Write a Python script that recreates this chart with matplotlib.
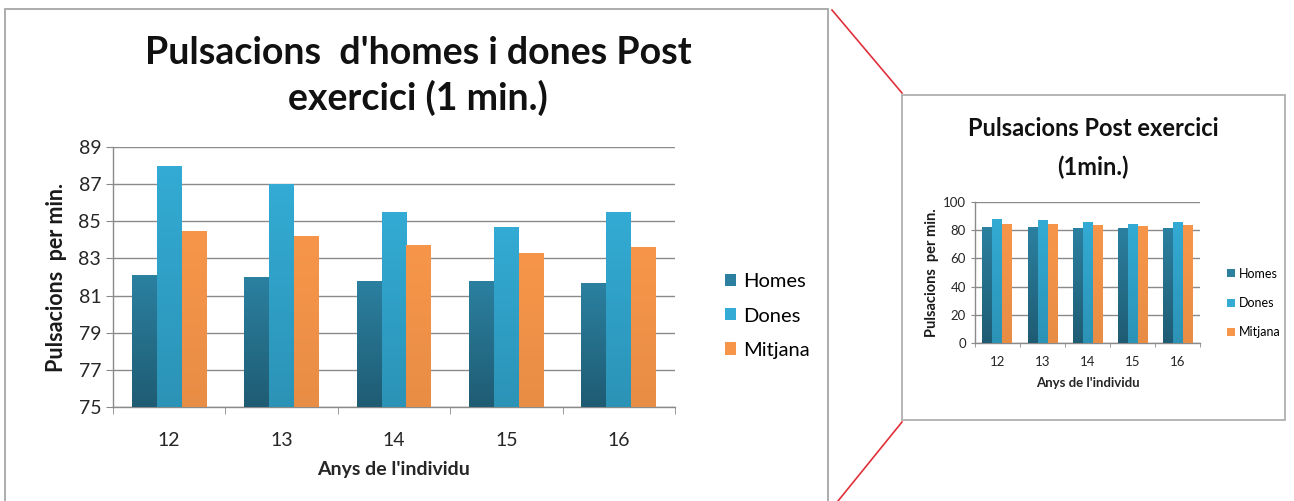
import numpy as np
import matplotlib
matplotlib.use('Agg')
import matplotlib.pyplot as plt
from matplotlib.patches import Rectangle
from matplotlib.lines import Line2D
from matplotlib.colors import to_rgb

# ----------- data ------------------------------------------------------------
anys = ['12', '13', '14', '15', '16']
homes = [82.1, 82.0, 81.8, 81.8, 81.7]
dones = [88.0, 87.0, 85.5, 84.7, 85.5]
mitjana = [84.5, 84.2, 83.7, 83.3, 83.6]
series = ['Homes', 'Dones', 'Mitjana']

# ----------- style -----------------------------------------------------------
plt.rcParams['font.family'] = ['Lato', 'DejaVu Sans']
colors = ['#2b80a0', '#33abd4', '#f7964a']
darken = [0.72, 0.86, 0.94]      # colour at the base of the bar
grid_c = '#8a8a8a'
W, H = 1294, 501


def shade(c, f):
    r, g, b = to_rgb(c)
    return (r*f, g*f, b*f)


def gradient_bars(ax, bars, color, f, y0):
    # vertical gradient, darker at the base of each bar
    grad = np.linspace(0, 1, 64).reshape(-1, 1)
    c0 = np.array(shade(color, f))
    c1 = np.array(to_rgb(color))
    img = c0 + (c1 - c0) * grad[..., None]
    for b in bars:
        x0 = b.get_x()
        top = b.get_height() + b.get_y()
        im = ax.imshow(img, extent=[x0, x0 + b.get_width(), y0, top],
                       origin='lower', aspect='auto', zorder=3)
        im.set_clip_path(b)


def chart(ax, ymin, ymax, ystep, fs_tick, fs_lab, tick_len, xpad):
    x = np.arange(len(anys))
    w = 1 / 4.5
    for k, vals in enumerate([homes, dones, mitjana]):
        bars = ax.bar(x + (k - 1) * w, vals, w, color=colors[k],
                      zorder=2, label=series[k])
        gradient_bars(ax, bars, colors[k], darken[k], ymin)
    ax.set_xlim(-0.5, len(anys) - 0.5)
    ax.set_ylim(ymin, ymax)
    ax.set_yticks(np.arange(ymin, ymax + 0.1, ystep))
    ax.set_xticks(x)
    ax.set_xticklabels(anys)
    ax.set_xticks(np.arange(-0.5, len(anys), 1), minor=True)
    ax.tick_params(axis='x', which='major', length=0, labelsize=fs_tick,
                   pad=xpad, colors='#262626')
    ax.tick_params(axis='x', which='minor', length=tick_len, color=grid_c,
                   direction='out')
    ax.tick_params(axis='y', length=tick_len, labelsize=fs_tick,
                   colors='#262626')
    ax.tick_params(axis='y', color=grid_c)
    ax.grid(axis='y', color=grid_c, lw=1.0, zorder=1)
    ax.set_axisbelow(True)
    for s in ['top', 'right']:
        ax.spines[s].set_visible(False)
    for s in ['left', 'bottom']:
        ax.spines[s].set_color(grid_c)
        ax.spines[s].set_linewidth(1.0)
    ax.set_xlabel("Anys de l'individu", fontsize=fs_lab[0], fontweight='bold',
                  color='#262626')
    ax.set_ylabel('Pulsacions  per min.', fontsize=fs_lab[1], fontweight='bold',
                  color='#1a1a1a')


fig = plt.figure(figsize=(W/100, H/100), dpi=100)

# frames round both charts and the red zoom lines
fig.patches.append(Rectangle((5/W, -0.1), (828-5)/W, 1.1 - 9/H,
                             transform=fig.transFigure, fill=False,
                             ec='#a6a6a6', lw=1.3))
fig.patches.append(Rectangle((902/W, 1 - 420/H), (1285-902)/W, (420-95)/H,
                             transform=fig.transFigure, fill=False,
                             ec='#b0b0b0', lw=1.3))
fig.lines.append(Line2D([832/W, 902/W], [1 - 10/H, 1 - 93/H],
                        transform=fig.transFigure, color='#e0303a', lw=1.2))
fig.lines.append(Line2D([902/W, 838/W], [1 - 422/H, 0],
                        transform=fig.transFigure, color='#e0303a', lw=1.2))

# big chart
ax1 = fig.add_axes([113/W, 1 - 407/H, (675-113)/W, (407-147)/H])
chart(ax1, 75, 89, 2, 14, (14, 15.5), 5, 18)
ax1.xaxis.labelpad = 9
ax1.yaxis.labelpad = 8
fig.text(418/W, 1 - 53/H, "Pulsacions  d'homes i dones Post", ha='center',
         va='center', fontsize=27, fontweight='bold', color='#111111')
fig.text(418/W, 1 - 98/H, 'exercici (1 min.)', ha='center',
         va='center', fontsize=27, fontweight='bold', color='#111111')
h, l = ax1.get_legend_handles_labels()
ax1.legend(h, l, loc='center left', bbox_to_anchor=(707/W, 1 - 316/H),
           bbox_transform=fig.transFigure, frameon=False, fontsize=14.5,
           handlelength=0.55, handleheight=0.55, handletextpad=0.35,
           labelspacing=0.85)

# small chart
ax2 = fig.add_axes([975/W, 1 - 343/H, (1200-975)/W, (343-202)/H])
chart(ax2, 0, 100, 20, 9.5, (9.5, 10.5), 3, 9)
ax2.xaxis.labelpad = 7
ax2.yaxis.labelpad = 3
fig.text(1093/W, 1 - 128/H, 'Pulsacions Post exercici', ha='center',
         va='center', fontsize=17, fontweight='bold', color='#111111')
fig.text(1093/W, 1 - 167/H, '(1min.)', ha='center',
         va='center', fontsize=17, fontweight='bold', color='#111111')
h, l = ax2.get_legend_handles_labels()
ax2.legend(h, l, loc='center left', bbox_to_anchor=(1216/W, 1 - 303/H),
           bbox_transform=fig.transFigure, frameon=False, fontsize=9,
           handlelength=0.6, handleheight=0.6, handletextpad=0.3,
           labelspacing=1.4)

fig.savefig('out.png', dpi=100)
